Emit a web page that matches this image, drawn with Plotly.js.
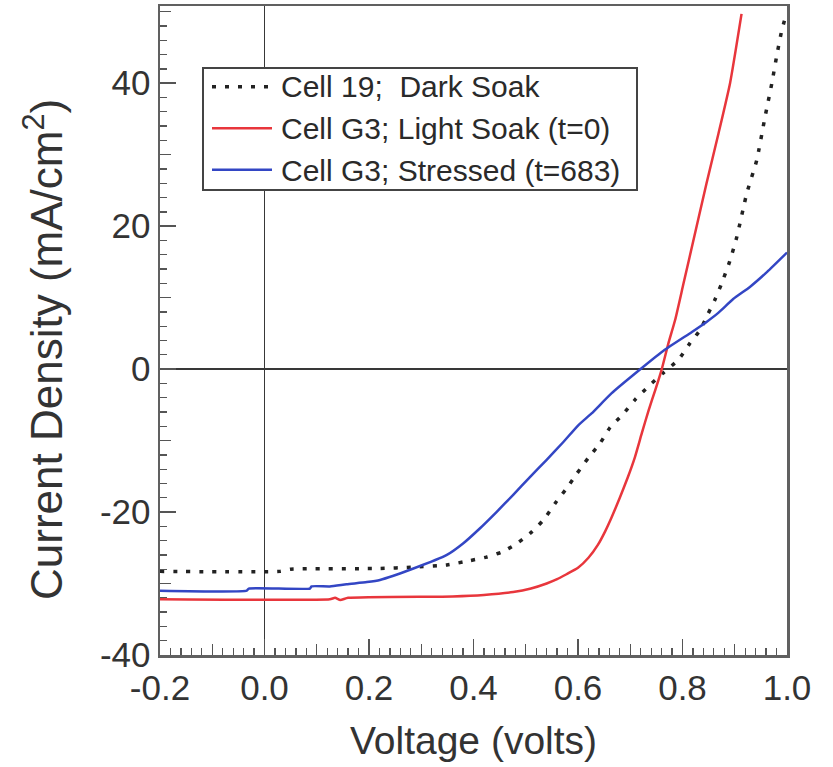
<!DOCTYPE html>
<html>
<head>
<meta charset="utf-8">
<script src="https://cdn.plot.ly/plotly-3.0.1.min.js"></script>
<style>
html,body{margin:0;padding:0;background:#fff;}
#chart{width:833px;height:767px;}
/* legend samples are drawn as longer layout lines instead */
#chart .legendlines path{stroke-opacity:0 !important;}
</style>
</head>
<body>
<div id="chart"></div>
<script>
// Series names
const seriesNames = ["Cell 19;\u00a0 Dark Soak", "Cell G3; Light Soak (t=0)", "Cell G3; Stressed (t=683)"];

// Cell 19, dark soak (voltage V, current density mA/cm^2)
const vDark = [-0.2, 0.03, 0.05, 0.22, 0.285, 0.349, 0.393, 0.425, 0.454, 0.479, 0.508, 0.534, 0.556, 0.578, 0.598, 0.620, 0.642, 0.661, 0.685, 0.709, 0.735, 0.762, 0.792, 0.814, 0.834, 0.848, 0.862, 0.875, 0.890, 0.904, 0.923, 0.942, 0.958, 0.971, 0.980, 0.990, 1.0];
const jDark = [-28.3, -28.3, -28.0, -27.9, -27.7, -27.4, -26.8, -26.3, -25.6, -24.6, -23.0, -21.1, -18.8, -16.7, -14.6, -12.4, -10.4, -8.2, -6.4, -4.3, -2.4, -0.6, 1.3, 3.6, 5.5, 7.6, 9.7, 12.0, 15.0, 18.5, 24.6, 29.2, 35.3, 40.0, 43.7, 47.4, 50.0];

// Cell G3, light soak (t=0)
const vLight = [-0.2, 0.125, 0.135, 0.145, 0.16, 0.36, 0.42, 0.476, 0.51, 0.540, 0.560, 0.578, 0.6, 0.62, 0.638, 0.652, 0.664, 0.68, 0.695, 0.709, 0.722, 0.735, 0.748, 0.760, 0.773, 0.786, 0.802, 0.824, 0.846, 0.869, 0.891, 0.913];
const jLight = [-32.2, -32.2, -32.0, -32.3, -32.0, -31.8, -31.6, -31.2, -30.7, -30.0, -29.4, -28.7, -27.8, -26.4, -24.6, -22.7, -20.8, -18.0, -15.2, -12.3, -9.0, -5.8, -2.9, -0.1, 3.6, 6.9, 12.0, 19.0, 26.0, 33.0, 40.0, 49.7];

// Cell G3, stressed (t=683)
const vStress = [-0.2, -0.034, -0.03, 0.087, 0.09, 0.125, 0.157, 0.196, 0.221, 0.285, 0.349, 0.380, 0.412, 0.444, 0.476, 0.508, 0.540, 0.572, 0.600, 0.626, 0.664, 0.718, 0.766, 0.818, 0.846, 0.869, 0.897, 0.929, 0.962, 1.0];
const jStress = [-31.0, -31.0, -30.7, -30.7, -30.4, -30.4, -30.1, -29.8, -29.5, -27.9, -26.0, -24.4, -22.3, -20.0, -17.6, -15.1, -12.7, -10.2, -7.9, -6.2, -3.4, -0.1, 2.7, 5.2, 6.6, 7.9, 9.8, 11.5, 13.6, 16.3];

// Axis ticks
const xTicks = [-0.2, 0.0, 0.2, 0.4, 0.6, 0.8, 1.0];
const xTickLabels = ["-0.2", "0.0", "0.2", "0.4", "0.6", "0.8", "1.0"];
const yTicks = [-40, -20, 0, 20, 40];
const yTickLabels = ["-40", "-20", "0", "20", "40"];

const FONT = "'Liberation Sans', Arial, sans-serif";
const xRange = [-0.2, 1.0];
const yRange = [-40, 50.8];

const colors = ["#222222", "#e8363c", "#3346c4"];
const widths = [3.5, 2.5, 2.5];
const dashes = ["4px,9px", "solid", "solid"];

// page geometry (pixels)
const W = 833, H = 767, ML = 160, MR = 46, MT = 6, MB = 112;
const PW = W - ML - MR, PH = H - MT - MB;
const px2x = p => (p - ML) / PW;
const px2y = p => (H - MB - p) / PH;

const traces = [
  {x: vDark, y: jDark, name: seriesNames[0], mode: "lines", type: "scatter",
   line: {color: colors[0], width: widths[0], dash: dashes[0], shape: "spline", smoothing: 0.5}},
  {x: vLight, y: jLight, name: seriesNames[1], mode: "lines", type: "scatter",
   line: {color: colors[1], width: widths[1], shape: "spline", smoothing: 0.5}},
  {x: vStress, y: jStress, name: seriesNames[2], mode: "lines", type: "scatter",
   line: {color: colors[2], width: widths[2], shape: "spline", smoothing: 0.5}},
  // carrier for the intermediate tick axes (draws nothing)
  {x: xRange, y: yRange, xaxis: "x2", yaxis: "y2", mode: "none", type: "scatter",
   showlegend: false, hoverinfo: "skip"}
];

// legend frame and long line samples
const legendRows = [86.8, 128.3, 169.8];
const shapes = [
  {type: "rect", xref: "paper", yref: "paper", layer: "above",
   x0: px2x(203), x1: px2x(637), y0: px2y(190), y1: px2y(68),
   fillcolor: "#fff", line: {color: "#444", width: 2}}
];
legendRows.forEach((r, i) => {
  shapes.push({type: "line", xref: "paper", yref: "paper", layer: "above",
    x0: px2x(212), x1: px2x(272), y0: px2y(r), y1: px2y(r),
    line: {color: colors[i], width: widths[i], dash: dashes[i]}});
});

const layout = {
  width: W, height: H,
  margin: {l: ML, r: MR, t: MT, b: MB},
  paper_bgcolor: "#fff", plot_bgcolor: "#fff",
  font: {family: FONT, color: "#333"},
  showlegend: true,
  legend: {x: px2x(205), y: px2y(59), xanchor: "left", yanchor: "top",
    bgcolor: "rgba(0,0,0,0)", borderwidth: 0, itemwidth: 66,
    font: {family: FONT, size: 30, color: "#2a2a2a"}, tracegroupgap: 0},
  shapes: shapes,
  annotations: [
    {text: "Current Density (mA/cm<sup>2</sup>)", xref: "paper", yref: "paper",
     x: 0, y: px2y(350), xshift: -117, textangle: -90, showarrow: false,
     xanchor: "center", yanchor: "middle",
     font: {family: FONT, size: 44, color: "#333"}}
  ],
  xaxis: {range: xRange, tickvals: xTicks, ticktext: xTickLabels,
    ticks: "inside", ticklen: 16, tickwidth: 1.6, tickcolor: "#555",
    minor: {dtick: 0.02, tick0: 0, ticks: "inside", ticklen: 7, tickwidth: 1.3, tickcolor: "#555"},
    showline: true, linecolor: "#606060", linewidth: 2.5, mirror: true,
    showgrid: false, zeroline: true, zerolinecolor: "#383838", zerolinewidth: 1.5,
    tickfont: {size: 35, family: FONT, color: "#333"},
    title: {text: "Voltage (volts)", font: {size: 39, family: FONT, color: "#333"}, standoff: 21},
    automargin: false},
  xaxis2: {range: xRange, overlaying: "x", anchor: "y2", side: "bottom",
    dtick: 0.1, tick0: 0, ticks: "inside", ticklen: 11, tickwidth: 1.3, tickcolor: "#555",
    showticklabels: false, showgrid: false, zeroline: false, showline: false},
  yaxis: {range: yRange, tickvals: yTicks, ticktext: yTickLabels,
    ticks: "inside", ticklen: 16, tickwidth: 1.6, tickcolor: "#555",
    minor: {dtick: 2, tick0: 0, ticks: "inside", ticklen: 7, tickwidth: 1.3, tickcolor: "#555"},
    showline: true, linecolor: "#606060", linewidth: 2.5, mirror: true,
    showgrid: false, zeroline: true, zerolinecolor: "#383838", zerolinewidth: 1.5,
    tickfont: {size: 35, family: FONT, color: "#333"},
    automargin: false},
  yaxis2: {range: yRange, overlaying: "y", anchor: "x2", side: "left",
    dtick: 10, tick0: 0, ticks: "inside", ticklen: 11, tickwidth: 1.3, tickcolor: "#555",
    showticklabels: false, showgrid: false, zeroline: false, showline: false}
};

Plotly.newPlot("chart", traces, layout, {displayModeBar: false, staticPlot: true});
</script>
</body>
</html>
